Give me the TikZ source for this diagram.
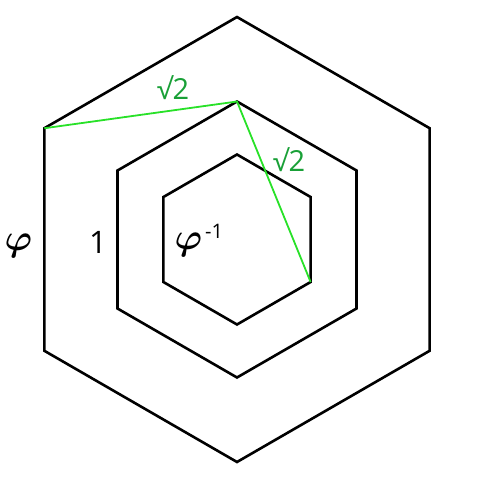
\documentclass[tikz,border=0pt]{standalone}
\usepackage{fontspec}
\usepackage{graphicx}
\setmainfont{Open Sans}
\usetikzlibrary{calc}
\definecolor{lgreen}{RGB}{40,225,40}
\definecolor{tgreen}{RGB}{25,160,55}
\begin{document}
\begin{tikzpicture}[x=1pt,y=-1pt,
  hex/.style={draw=black,line width=2.6pt,line join=miter},
  gline/.style={draw=lgreen,line width=1.8pt},
  glabel/.style={text=tgreen,font=\fontsize{29}{29}\selectfont,inner sep=0pt},
  blabel/.style={text=black,font=\fontsize{31}{31}\selectfont,inner sep=0pt},
  phil/.style={text=black,inner sep=0pt},
  suplabel/.style={text=black,font=\fontsize{20}{20}\selectfont,inner sep=0pt}]
\useasboundingbox (0,0) rectangle (480,480);
\coordinate (c) at (237,239.5);
\foreach \r/\n in {222.5/o,138/m,85/i}{
  \foreach \k in {0,...,5}{
    \coordinate (\n\k) at ($(c)+({\r*sin(60*\k)},{-\r*cos(60*\k)})$);
  }
  \draw[hex] (\n0)--(\n1)--(\n2)--(\n3)--(\n4)--(\n5)--cycle;
}
\draw[gline] (o5) -- (m0) -- (i2);
\node[glabel] (s1) at (173,88) {√2};
\node[glabel] (s2) at (289,160) {√2};
\node[phil] (phi) at (18.5,246) {\scalebox{3.7}{\boldmath$\varphi$}};
\node[blabel] (one) at (98,242) {1};
\node[phil] (phii) at (188.5,245) {\scalebox{3.7}{\boldmath$\varphi$}};
\node[suplabel] (sup) at (214,231.5) {-1};
\end{tikzpicture}
\end{document}
